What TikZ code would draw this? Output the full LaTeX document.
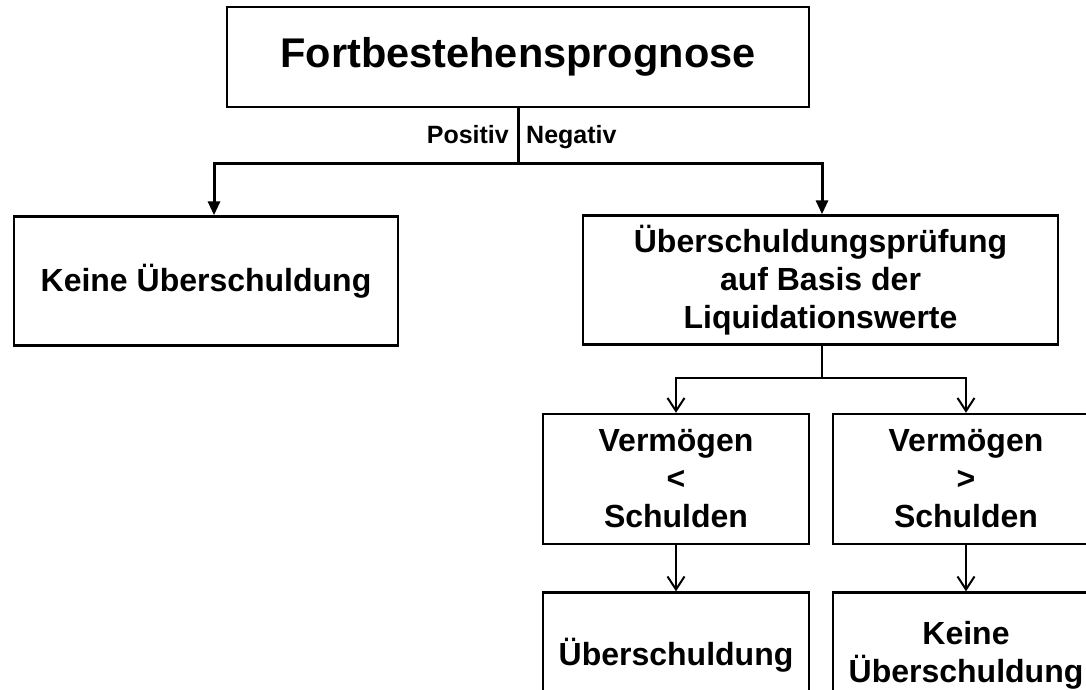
\documentclass[tikz,border=0pt]{standalone}
\usepackage{fontspec}
\setmainfont{Liberation Sans}
\usetikzlibrary{arrows.meta}
\begin{document}
\begin{tikzpicture}[x=1pt,y=-1pt,
  box/.style={draw=black,line width=2.4pt,fill=white,align=center,inner sep=0pt,
    font=\bfseries\fontsize{32}{38}\selectfont},
  titlebox/.style={box,font=\bfseries\fontsize{41.5}{48}\selectfont},
  lbl/.style={inner sep=0pt,font=\bfseries\fontsize{25}{29}\selectfont},
  thickline/.style={line width=3pt},
  thickarrow/.style={line width=3pt,-{Triangle[length=14pt,width=12pt]}},
  thinline/.style={line width=2pt},
  thinarrow/.style={line width=2pt,-{Straight Barb[length=13pt,width=17pt,line width=2pt]}}
]
\clip (0,0) rectangle (1086,690);
\fill[white] (0,0) rectangle (1086,690);

\node[titlebox,minimum width=582pt,minimum height=100pt] (top) at (518,57) {Fortbestehensprognose};
\node[box,minimum width=384pt,minimum height=129pt] (left) at (206,281) {Keine Überschuldung};
\node[box,minimum width=475pt,minimum height=129pt] (right) at (820.5,280) {Überschuldungsprüfung\\auf Basis der\\Liquidationswerte};
\node[box,minimum width=266pt,minimum height=130pt] (ml) at (676,479) {Vermögen\\<\\Schulden};
\node[box,minimum width=266pt,minimum height=130pt] (mr) at (966,479) {Vermögen\\>\\Schulden};
\node[box,minimum width=266pt,minimum height=125pt] (bl) at (676,655) {Überschuldung};
\node[box,minimum width=266pt,minimum height=125pt] (br) at (966,655) {Keine\\Überschuldung};

\node[lbl,anchor=base east] (pos) at (509,143) {Positiv};
\node[lbl,anchor=base west] (neg) at (526,143) {Negativ};

\draw[thickline] (top.south) -- ++(0,55) coordinate (j1);
\draw[thickarrow] (j1) -| ([xshift=8pt]left.north);
\draw[thickarrow] (j1) -| ([xshift=1.5pt]right.north);

\draw[thinline] ([xshift=1.5pt]right.south) -- ++(0,32) coordinate (j2);
\draw[thinarrow] (j2) -| (ml.north);
\draw[thinarrow] (j2) -| (mr.north);

\draw[thinarrow] (ml.south) -- (bl.north);
\draw[thinarrow] (mr.south) -- (br.north);
\end{tikzpicture}
\end{document}
